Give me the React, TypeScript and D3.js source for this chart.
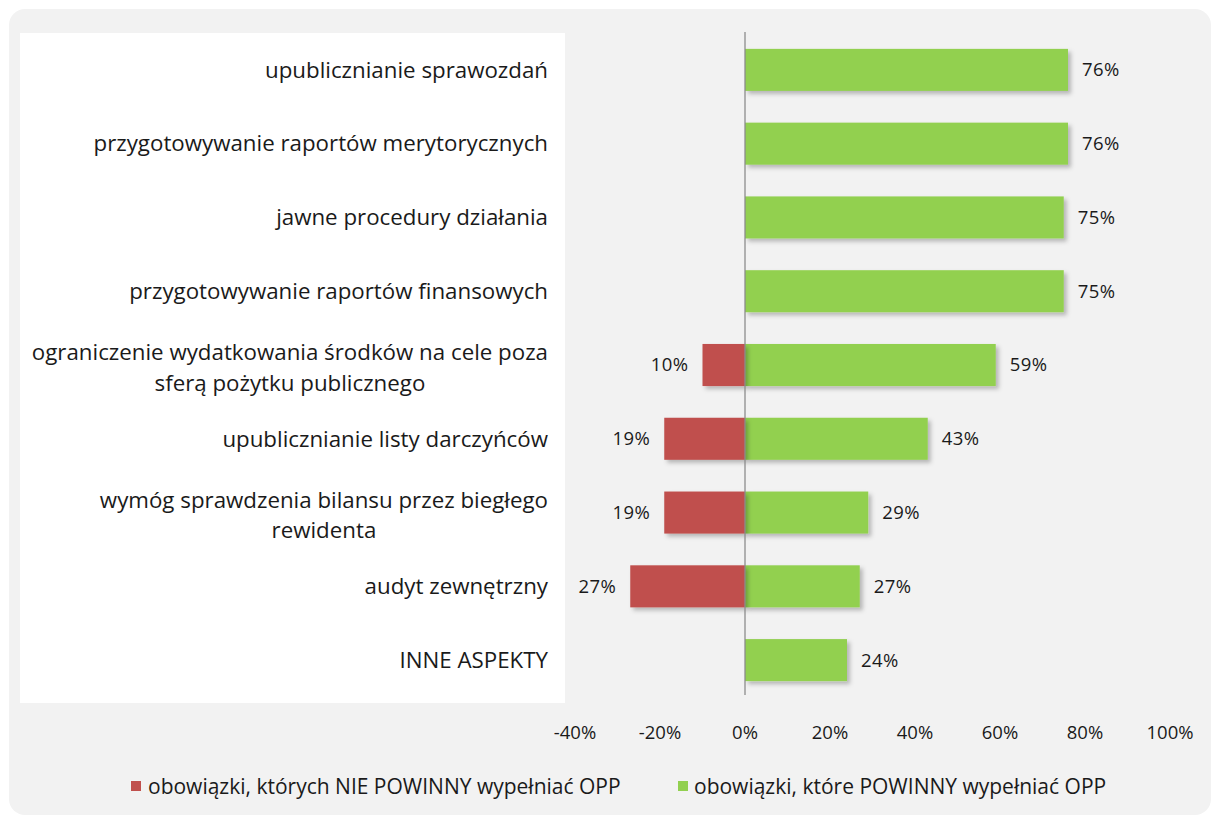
import React from "react";
import * as d3 from "d3";

const categories: string[][] = [
  ["upublicznianie sprawozdań"],
  ["przygotowywanie raportów merytorycznych"],
  ["jawne procedury działania"],
  ["przygotowywanie raportów finansowych"],
  ["ograniczenie wydatkowania środków na cele poza", "sferą pożytku publicznego"],
  ["upublicznianie listy darczyńców"],
  ["wymóg sprawdzenia bilansu przez biegłego", "rewidenta"],
  ["audyt zewnętrzny"],
  ["INNE ASPEKTY"],
];
const positiveValues: number[] = [76, 76, 75, 75, 59, 43, 29, 27, 24];
const negativeValues: (number | null)[] = [null, null, null, null, 10, 19, 19, 27, null];
const tickValues: number[] = [-40, -20, 0, 20, 40, 60, 80, 100];
const seriesNames: string[] = [
  "obowiązki, których NIE POWINNY wypełniać OPP",
  "obowiązki, które POWINNY wypełniać OPP",
];

const W = 1213;
const H = 818;
const GREEN = "#92d050";
const RED = "#c0504d";
const FONT = "Open Sans, sans-serif";
const LABEL_SIZE = 22.3;

let ctx: CanvasRenderingContext2D | null = null;
function measure(s: string): number {
  if (!ctx) {
    const c = document.createElement("canvas");
    ctx = c.getContext("2d");
  }
  if (!ctx) return s.length * LABEL_SIZE * 0.5;
  ctx.font = `${LABEL_SIZE}px "Open Sans", sans-serif`;
  return ctx.measureText(s).width;
}

export default function App() {
  const x = d3.scaleLinear().domain([-40, 100]).range([575, 1170]);
  const y = d3
    .scaleBand<number>()
    .domain(d3.range(categories.length))
    .range([33, 697])
    .paddingInner(0.43)
    .paddingOuter(0.215);
  const bh = y.bandwidth();
  const x0 = x(0);
  const labelRight = 548;

  return (
    <svg
      width={W}
      height={H}
      style={{ position: "absolute", left: 0, top: 0 }}
      fontFamily={FONT}
    >
      <defs>
        <filter id="sh" x="-10%" y="-20%" width="130%" height="160%">
          <feDropShadow dx="3" dy="3" stdDeviation="2" floodColor="#000" floodOpacity="0.25" />
        </filter>
      </defs>
      <rect x={0} y={0} width={W} height={H} fill="#fff" />
      <rect x={9} y={9} width={1202} height={806} rx={16} ry={16} fill="#f2f2f2" />
      <rect x={20} y={33} width={545} height={670} fill="#fff" />

      {categories.map((lines, i) => {
        const cy = (y(i) as number) + bh / 2;
        const lh = 30.5;
        const multi = lines.length > 1;
        const start = cy - ((lines.length - 1) * lh) / 2 + (multi ? 2.5 : 0);
        const maxW = multi ? Math.max(...lines.map(measure)) : 0;
        const cx = labelRight - maxW / 2;
        return (
          <text key={"c" + i} fontSize={LABEL_SIZE} fill="#1a1a1a">
            {lines.map((ln, j) => (
              <tspan
                key={j}
                x={multi ? cx : labelRight}
                textAnchor={multi ? "middle" : "end"}
                y={start + j * lh}
                dy="0.35em"
              >
                {ln}
              </tspan>
            ))}
          </text>
        );
      })}

      {positiveValues.map((v, i) => (
        <g key={"p" + i}>
          <rect
            x={x0}
            y={y(i)}
            width={x(v) - x0}
            height={bh}
            fill={GREEN}
            filter="url(#sh)"
          />
          <text
            x={x(v) + 14}
            y={(y(i) as number) + bh / 2}
            dy="0.35em"
            fontSize={18.5}
            letterSpacing={0.4}
            fill="#1a1a1a"
          >
            {v + "%"}
          </text>
        </g>
      ))}
      {negativeValues.map((v, i) =>
        v == null ? null : (
          <g key={"n" + i}>
            <rect
              x={x(-v)}
              y={y(i)}
              width={x0 - x(-v)}
              height={bh}
              fill={RED}
              filter="url(#sh)"
            />
            <text
              x={x(-v) - 14}
              y={(y(i) as number) + bh / 2}
              dy="0.35em"
              textAnchor="end"
              fontSize={18.5}
              letterSpacing={0.4}
              fill="#1a1a1a"
            >
              {v + "%"}
            </text>
          </g>
        )
      )}

      <line x1={x0} x2={x0} y1={32} y2={695} stroke="#8c8c8c" strokeWidth={1.3} />

      {tickValues.map((t) => (
        <text
          key={"t" + t}
          x={x(t)}
          y={733}
          dy="0.35em"
          textAnchor="middle"
          fontSize={18.5}
          fill="#1a1a1a"
        >
          {t + "%"}
        </text>
      ))}

      <rect x={131} y={781} width={10} height={10} fill={RED} />
      <text x={148} y={787} dy="0.35em" fontSize={21} fill="#1a1a1a">
        {seriesNames[0]}
      </text>
      <rect x={678} y={781} width={10} height={10} fill={GREEN} />
      <text x={694} y={787} dy="0.35em" fontSize={21} fill="#1a1a1a">
        {seriesNames[1]}
      </text>
    </svg>
  );
}
